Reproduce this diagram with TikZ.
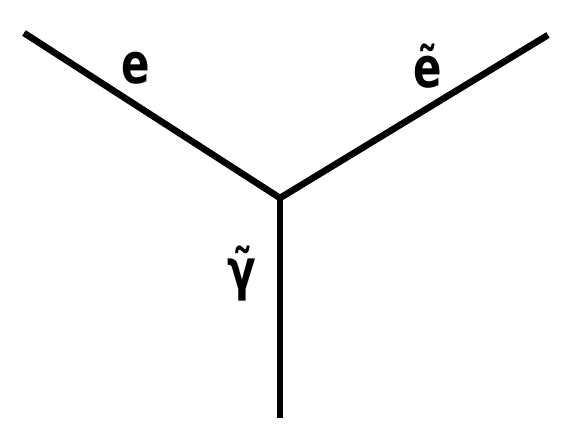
\documentclass[tikz,border=0pt]{standalone}
\usepackage{fontspec}
\newfontfamily\legfont{DejaVu Sans}[FakeStretch=0.75]
\usetikzlibrary{positioning}
\tikzset{
  leg/.style={line width=3.3pt,line cap=butt},
  leglabel/.style={inner sep=0pt,font=\legfont\bfseries\fontsize{28}{32}\selectfont},
}
\begin{document}
\begin{tikzpicture}[x=0.5pt,y=-0.5pt]
\useasboundingbox (0,0) rectangle (563,434);

\coordinate (v) at (280,198);
\coordinate (el) at (24,33);
\coordinate (er) at (548,35);
\coordinate (gb) at (280,418);

\draw[leg] (el) -- (v);
\draw[leg] (er) -- (v);
\draw[leg] (v) -- (gb);

\node[leglabel] (le) at (136,68) {e};
\node[leglabel] (lse) at (428,66) {ẽ};
\node[leglabel] (lsg) at (242,274) {γ̃};

\end{tikzpicture}
\end{document}
